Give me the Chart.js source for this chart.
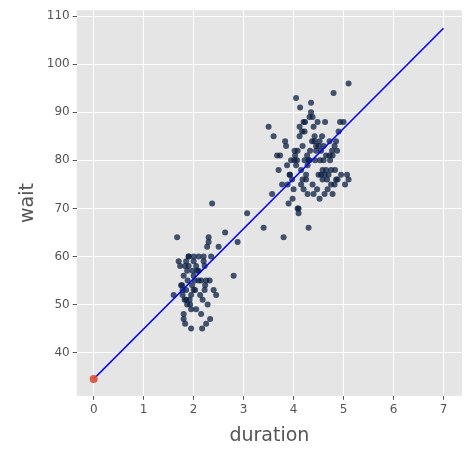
<!DOCTYPE html>
<html>
<head>
<script src="https://cdn.jsdelivr.net/npm/chart.js@4"></script>
<style>
html,body{margin:0;padding:0;background:#fff;}
#wrap{position:relative;width:472px;height:457px;}
</style>
</head>
<body>
<div id="wrap"><canvas id="c"></canvas></div>
<script>
const duration = [
  1.60,1.67,1.70,1.73,1.75,1.78,1.80,1.80,1.82,1.83,1.85,1.85,1.87,1.88,1.90,1.90,1.92,1.93,1.95,1.95,
  1.97,2.00,2.00,2.00,2.02,2.03,2.05,2.07,2.10,2.10,2.13,2.15,2.17,2.18,2.20,2.20,2.22,2.23,2.25,2.27,
  2.28,2.30,2.32,2.33,2.35,2.37,2.40,2.45,2.50,2.63,2.80,2.88,3.07,3.40,1.77,1.83,1.87,1.95,2.05,2.25,
  1.80,1.90,2.00,2.15,2.30,1.85,1.98,2.10,2.22,1.78,
  3.50,3.57,3.60,3.67,3.70,3.73,3.77,3.80,3.83,3.85,3.87,3.90,3.92,3.95,3.97,4.00,4.02,4.03,4.05,4.07,
  4.08,4.10,4.12,4.13,4.15,4.17,4.18,4.20,4.22,4.23,4.25,4.27,4.28,4.30,4.32,4.33,4.35,4.37,4.38,4.40,
  4.42,4.43,4.45,4.47,4.50,4.52,4.53,4.55,4.57,4.58,4.60,4.62,4.63,4.65,4.67,4.70,4.72,4.73,4.75,4.77,
  4.78,4.80,4.82,4.83,4.85,4.87,4.90,4.93,4.95,5.00,5.03,5.07,5.10,5.10,4.05,4.15,4.25,4.35,4.45,4.55,
  4.65,4.75,4.85,4.08,4.18,4.28,4.38,4.48,4.58,4.68,4.78,4.88,3.93,4.02,4.12,4.22,4.32,4.42,4.52,4.62,
  4.72,4.82,4.60,4.50,4.40,4.30,4.20,4.10,3.98,3.88
];
const wait = [
  52,64,59,58,54,53,47,48,51,46,53,59,57,55,60,58,51,50,45,49,
  54,56,60,53,55,53,58,57,60,57,52,55,45,51,60,59,58,54,46,62,
  50,64,55,47,60,71,53,52,62,65,56,63,69,66,54,58,50,52,49,55,
  56,60,59,48,63,51,57,55,53,52,
  87,73,85,81,78,81,75,64,84,83,79,71,77,80,76,74,82,81,93,80,
  70,69,85,91,78,86,83,74,80,88,77,81,73,66,89,82,90,84,75,73,
  85,80,82,74,83,84,80,77,85,78,83,73,88,81,76,77,84,80,75,82,
  73,94,83,78,84,82,86,88,77,88,75,77,96,76,79,75,76,92,83,82,
  78,78,76,82,76,79,89,88,76,74,81,76,77,80,87,86,80,84,72,77,
  81,75,80,77,87,80,88,70,72,75
];
// fitted regression line
const fitX = [0, 7];
const fitY = [34.5, 107.5];

const pts = duration.map((d, i) => ({x: d, y: wait[i]}));

new Chart(document.getElementById('c'), {
  type: 'scatter',
  data: {
    datasets: [
      {data: pts, backgroundColor: 'rgba(10,30,65,0.75)', borderWidth: 0, pointRadius: 3, order: 2},
      {type: 'line', data: fitX.map((x, i) => ({x: x, y: fitY[i]})), borderColor: '#0000ff',
       borderWidth: 1.6, pointRadius: 0, fill: false, order: 1},
      {data: [{x: fitX[0], y: fitY[0]}], backgroundColor: 'rgba(226,74,51,0.9)', pointRadius: 4, borderWidth: 0, order: 0}
    ]
  },
  options: {
    responsive: true, maintainAspectRatio: false, animation: false,
    layout: {padding: {top: 8, right: 10, left: 13, bottom: 6}},
    plugins: {legend: {display: false}, tooltip: {enabled: false}},
    scales: {
      x: {type: 'linear', min: -0.34, max: 7.37,
        afterBuildTicks: a => { a.ticks = [0,1,2,3,4,5,6,7].map(v => ({value: v})); },
        grid: {color: '#ffffff', lineWidth: 1, drawTicks: true, tickColor: '#555', tickLength: 4},
        border: {display: false},
        ticks: {color: '#555', font: {family: 'DejaVu Sans', size: 12}},
        title: {display: true, text: 'duration', color: '#555', font: {family: 'DejaVu Sans', size: 19}}},
      y: {type: 'linear', min: 31, max: 111.25,
        afterBuildTicks: a => { a.ticks = [40,50,60,70,80,90,100,110].map(v => ({value: v})); },
        grid: {color: '#ffffff', lineWidth: 1, drawTicks: true, tickColor: '#555', tickLength: 4},
        border: {display: false},
        ticks: {color: '#555', font: {family: 'DejaVu Sans', size: 12}},
        title: {display: true, text: 'wait', color: '#555', font: {family: 'DejaVu Sans', size: 19}}}
    }
  },
  plugins: [{
    id: 'bg',
    beforeDraw(chart) {
      const {ctx, chartArea: a} = chart;
      ctx.save(); ctx.fillStyle = '#e5e5e5';
      ctx.fillRect(a.left, a.top, a.right - a.left, a.bottom - a.top);
      ctx.restore();
    }
  }]
});
</script>
</body>
</html>
